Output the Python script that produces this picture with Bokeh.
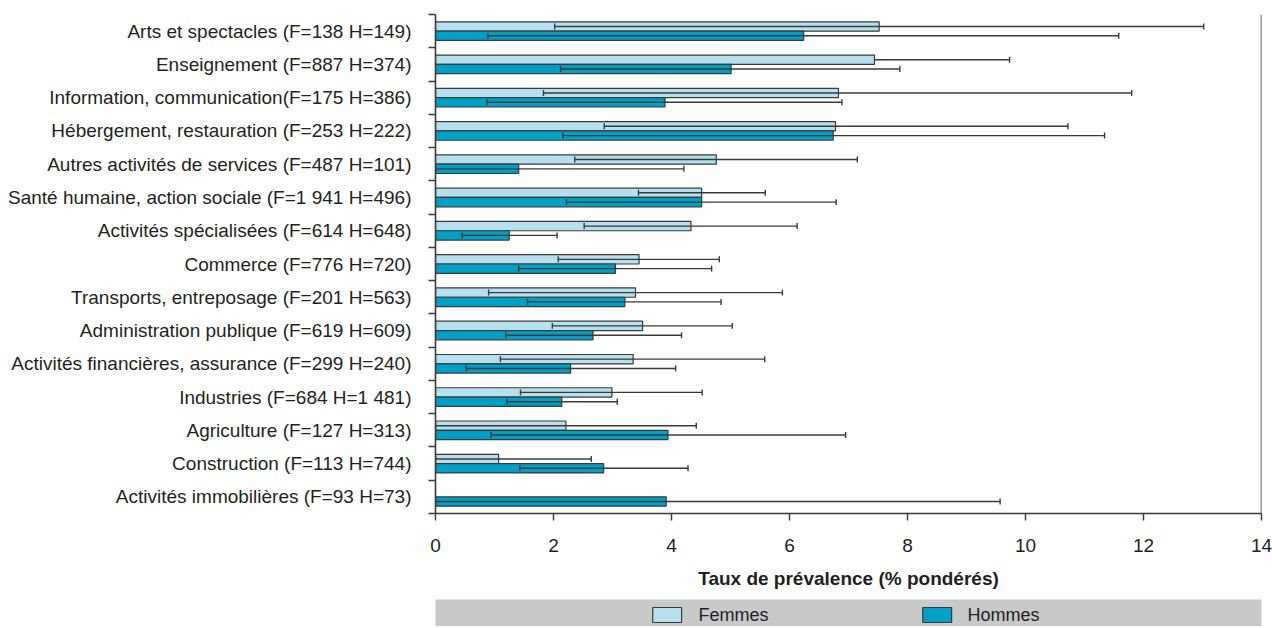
import math
from bokeh.plotting import figure
from bokeh.layouts import column
from bokeh.models import Range1d, FixedTicker, Span, ColumnDataSource
from bokeh.core.properties import value
from bokeh.embed import file_html
from bokeh.resources import INLINE

categories = [
    "Arts et spectacles (F=138 H=149)",
    "Enseignement (F=887 H=374)",
    "Information, communication(F=175 H=386)",
    "Hébergement, restauration (F=253 H=222)",
    "Autres activités de services (F=487 H=101)",
    "Santé humaine, action sociale (F=1 941 H=496)",
    "Activités spécialisées (F=614 H=648)",
    "Commerce (F=776 H=720)",
    "Transports, entreposage (F=201 H=563)",
    "Administration publique (F=619 H=609)",
    "Activités financières, assurance (F=299 H=240)",
    "Industries (F=684 H=1 481)",
    "Agriculture (F=127 H=313)",
    "Construction (F=113 H=744)",
    "Activités immobilières (F=93 H=73)",
]
NaN = float("nan")
femmes = [7.52, 7.44, 6.83, 6.78, 4.76, 4.51, 4.33, 3.45, 3.39, 3.51, 3.35, 2.99, 2.21, 1.07, NaN]
femmes_low = [2.02, NaN, 1.83, 2.86, 2.36, 3.44, 2.52, 2.08, 0.90, 1.98, 1.10, 1.44, 0.0, 0.0, NaN]
femmes_high = [13.02, 9.73, 11.80, 10.72, 7.15, 5.59, 6.13, 4.81, 5.88, 5.03, 5.58, 4.52, 4.42, 2.64, NaN]
hommes = [6.24, 5.01, 3.89, 6.74, 1.41, 4.51, 1.25, 3.05, 3.21, 2.67, 2.29, 2.14, 3.94, 2.85, 3.91]
hommes_low = [0.89, 2.12, 0.87, 2.16, 0.0, 2.22, 0.45, 1.41, 1.56, 1.19, 0.52, 1.21, 0.94, 1.43, 0.0]
hommes_high = [11.58, 7.87, 6.89, 11.34, 4.21, 6.79, 2.06, 4.68, 4.84, 4.17, 4.07, 3.08, 6.95, 4.28, 9.57]
x_ticks = [0, 2, 4, 6, 8, 10, 12, 14]
x_title = "Taux de prévalence (% pondérés)"
series_names = ["Femmes", "Hommes"]

C_F = "#b7e0ee"
C_H = "#00a0c6"
EDGE = "#3a3a3a"
TXT = "#231f20"
FONT = "Liberation Sans"

n = len(categories)
pos = [n - i for i in range(n)]
off = 0.14
bh = 0.28

p = figure(width=1272, height=599, x_range=Range1d(0, 14), y_range=Range1d(0.5, n + 0.5),
           output_backend="svg", toolbar_location=None,
           min_border_left=435, min_border_right=11, min_border_top=14, min_border_bottom=86)
p.outline_line_color = None
p.xgrid.visible = False
p.ygrid.visible = False

def ebar_source(vals, lows, highs, dy):
    x0 = [lo if not math.isnan(lo) else v for v, lo in zip(vals, lows)]
    return ColumnDataSource(dict(y=[q + dy for q in pos], v=vals, lo=lows, hi=highs, x0=x0))

srcF = ebar_source(femmes, femmes_low, femmes_high, off)
srcH = ebar_source(hommes, hommes_low, hommes_high, -off)

for src, col in ((srcF, C_F), (srcH, C_H)):
    p.hbar(y="y", right="v", left=0, height=bh, source=src, fill_color=col,
           line_color=EDGE, line_width=1.2)

cap = 0.09
for src in (srcF, srcH):
    p.segment(x0="x0", y0="y", x1="hi", y1="y", source=src, line_color=EDGE, line_width=1.4)
    d = src.data
    p.segment(x0=d["hi"], x1=d["hi"], y0=[y - cap for y in d["y"]], y1=[y + cap for y in d["y"]],
              line_color=EDGE, line_width=1.4)
    p.segment(x0=d["lo"], x1=d["lo"], y0=[y - cap for y in d["y"]], y1=[y + cap for y in d["y"]],
              line_color=EDGE, line_width=1.4)

p.add_layout(Span(location=14, dimension="height", line_color=EDGE, line_width=1.6))

yax = p.yaxis[0]
yax.ticker = FixedTicker(ticks=pos, minor_ticks=[k + 0.5 for k in range(n + 1)])
yax.major_label_overrides = {q: c for q, c in zip(pos, categories)}
yax.major_tick_out = 0
yax.major_tick_in = 0
yax.minor_tick_out = 7
yax.minor_tick_in = 0
yax.minor_tick_line_color = EDGE
yax.minor_tick_line_width = 1.4
yax.axis_line_color = EDGE
yax.axis_line_width = 1.6
yax.major_label_standoff = 17
yax.major_label_text_font = FONT
yax.major_label_text_font_size = "19px"
yax.major_label_text_color = TXT

xax = p.xaxis[0]
xax.ticker = FixedTicker(ticks=x_ticks, minor_ticks=[])
xax.major_tick_out = 7
xax.major_tick_in = 0
xax.major_tick_line_color = EDGE
xax.major_tick_line_width = 1.4
xax.axis_line_color = EDGE
xax.axis_line_width = 1.6
xax.major_label_standoff = 18
xax.major_label_text_font = FONT
xax.major_label_text_font_size = "19px"
xax.major_label_text_color = TXT
xax.axis_label = x_title
xax.axis_label_text_font = FONT
xax.axis_label_text_font_size = "19px"
xax.axis_label_text_font_style = "bold"
xax.axis_label_text_color = TXT
xax.axis_label_standoff = 13

# legend band
leg = figure(width=1272, height=27, x_range=Range1d(434, 1263), y_range=Range1d(626, 599),
             output_backend="svg", toolbar_location=None,
             min_border_left=434, min_border_right=9, min_border_top=0, min_border_bottom=0,
             x_axis_location=None, y_axis_location=None)
leg.outline_line_color = None
leg.background_fill_color = "#c8c9cb"
leg.xgrid.visible = False
leg.ygrid.visible = False
leg.quad(left=[652, 923], right=[681, 952], top=[607, 607], bottom=[622, 622],
         fill_color=[C_F, C_H], line_color=EDGE, line_width=1.2)
leg.text(x=[698, 968], y=[614.5, 614.5], text=series_names, text_font=value(FONT),
         text_font_size="18px", text_baseline="middle", text_align="left", text_color=TXT)

layout = column(p, leg, spacing=0)
open("out.html", "w").write(file_html(layout, INLINE))
